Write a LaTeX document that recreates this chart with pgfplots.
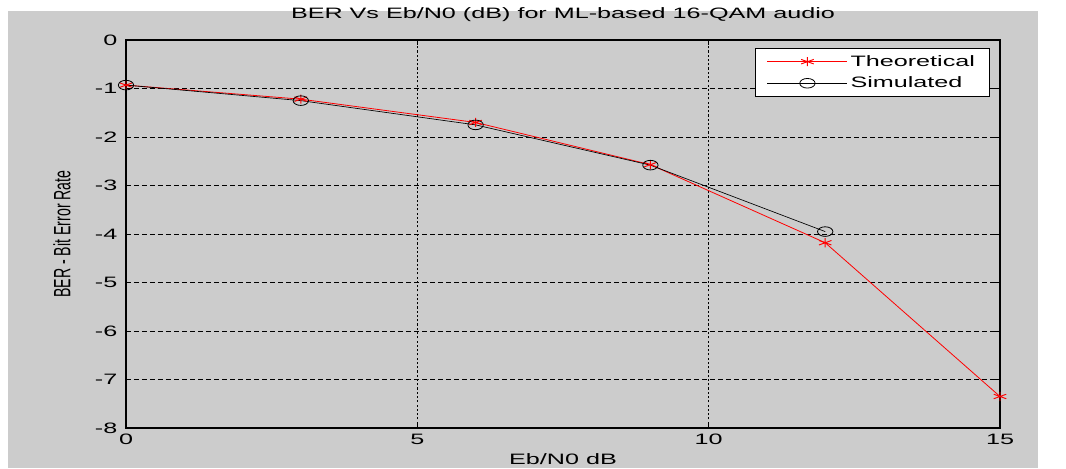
\documentclass[border=0pt]{standalone}
\usepackage{pgfplots}
\pgfplotsset{compat=1.18}
\usepackage{fontspec}
% the reference is stretched sideways, so the text is too
\setmainfont{Liberation Sans}[FakeStretch=1.67]
\newfontfamily\plainfont{Liberation Sans}
\definecolor{figgray}{RGB}{204,204,204}
\begin{document}
\begin{tikzpicture}
	% page and figure background (1 px = 0.75 pt, axis box at origin)
	\path[use as bounding box] (-94.5pt,-30pt) rectangle (705pt,321pt);
	\fill[white] (-94.5pt,-30pt) rectangle (705pt,321pt);
	\fill[figgray] (-88.5pt,-30pt) rectangle (684pt,312.75pt);
	\begin{axis}[
			at={(0,0)}, anchor=south west,
			scale only axis,
			width=655.5pt,
			height=291pt,
			xmin=0, xmax=15,
			ymin=-8, ymax=0,
			xtick={0,5,10,15},
			ytick={-8,-7,...,0},
			tick align=inside,
			major tick length=4pt,
			axis line style={line width=0.8pt},
			every tick/.style={black, line width=0.6pt},
			grid=major,
			major x grid style={black, line width=0.6pt, dash pattern=on 1.6pt off 1.6pt},
			major y grid style={black, line width=0.5pt, dash pattern=on 3.5pt off 2.5pt},
			font={\fontsize{11.3}{13}\selectfont},
			/pgf/number format/assume math mode=true,
			y tick label style={xshift=-3pt},
			x tick label style={yshift=-1pt},
			title={BER Vs Eb/N0 (dB) for ML-based 16-QAM audio},
			title style={at={(axis description cs:0.5,1.0438)}, anchor=center},
			xlabel={Eb/N0 dB},
			xlabel style={at={(axis description cs:0.5,-0.08)}, anchor=center},
			ylabel={\scalebox{1}[1.67]{\plainfont\fontsize{10.6}{12}\selectfont BER - Bit Error Rate}},
			ylabel style={at={(axis description cs:-0.0732,0.5)}, anchor=center},
			legend style={
				at={(rel axis cs:0.9886,0.979)}, anchor=north east,
				draw=black, line width=0.6pt, fill=white,
				font={\fontsize{11.3}{13}\selectfont},
				inner xsep=9pt, inner ysep=3pt, row sep=2.5pt,
				/tikz/every even column/.append style={column sep=3pt},
			},
			legend cell align=left,
			legend image code/.code={
				\draw[#1, mark repeat=2, mark phase=2] plot coordinates {(0pt,0pt) (30pt,0pt) (60pt,0pt)};
			},
		]

		\addplot[red, line width=0.6pt, mark=asterisk, mark size=3.4pt,
			mark options={line width=0.7pt, xscale=1.6}]
		table {
		x	y
		0	-0.93
		3	-1.22
		6	-1.70
		9	-2.57
		12	-4.18
		15	-7.35
		};
		\addlegendentry{Theoretical}

		\addplot[black, line width=0.5pt, mark=o, mark size=3.6pt,
			mark options={line width=0.6pt, xscale=1.6}]
		table {
		x	y
		0	-0.93
		3	-1.25
		6	-1.75
		9	-2.58
		12	-3.95
		};
		\addlegendentry{Simulated}

	\end{axis}
\end{tikzpicture}
\end{document}
